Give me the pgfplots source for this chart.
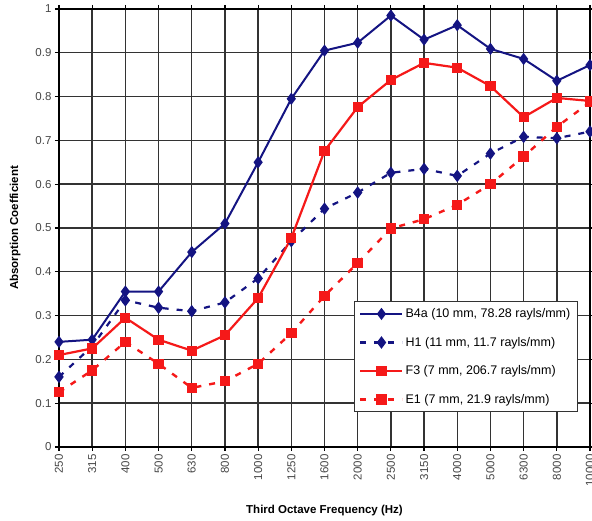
\documentclass[border=0pt]{standalone}
\usepackage{pgfplots}
\pgfplotsset{compat=1.18}
\usepackage{fontspec}
\setmainfont{Liberation Sans}
\definecolor{navyb}{RGB}{20,20,130}
\definecolor{redb}{RGB}{245,25,25}
\definecolor{tickgray}{RGB}{70,70,70}
\begin{document}
\begin{tikzpicture}
\begin{axis}[
  name=ax,
  scale only axis,
  width=531pt, height=438pt,
  xmin=0, xmax=16, ymin=0, ymax=1,
  xtick={0,...,16},
  xticklabels={250,315,400,500,630,800,1000,1250,1600,2000,2500,3150,4000,5000,6300,8000,10000},
  ytick={0,0.1,0.2,0.3,0.4,0.5,0.6,0.7,0.8,0.9,1},
  yticklabels={0,0.1,0.2,0.3,0.4,0.5,0.6,0.7,0.8,0.9,1},
  x tick label style={rotate=90, anchor=east, font=\fontsize{11.5}{13}\selectfont, text=tickgray},
  y tick label style={font=\fontsize{11.5}{13}\selectfont, text=tickgray},
  /pgf/number format/assume math mode=true,
  grid=major,
  major grid style={black!80, line width=1.4pt},
  axis line style={black, line width=1.4pt},
  tick style={black, line width=1.2pt},
  tick align=outside,
  major tick length=4pt,
  xlabel={\textbf{Third Octave Frequency (Hz)}},
  ylabel={\textbf{Absorption Coefficient}},
  label style={font=\fontsize{11.5}{13}\selectfont},
  xlabel style={yshift=-12pt},
  ylabel style={yshift=8pt},
  legend cell align=left,
  legend style={at={(0.977,0.333)}, anchor=north east, draw=black!80, line width=1pt,
    font=\fontsize{12.5}{14}\selectfont, row sep=14pt, inner xsep=5pt, inner ysep=5pt, fill=white},
  legend image code/.code={\draw[mark repeat=2,mark phase=2] plot coordinates {(0pt,0pt)(21pt,0pt)(42pt,0pt)};},
  clip=false,
]
\addplot[navyb, line width=2pt, mark=diamond*, mark size=4.5pt, mark options={solid}] coordinates {
(0,0.24)(1,0.245)(2,0.355)(3,0.355)(4,0.445)(5,0.51)(6,0.65)(7,0.795)(8,0.905)(9,0.923)(10,0.985)(11,0.93)(12,0.963)(13,0.909)(14,0.886)(15,0.836)(16,0.872)};
\addlegendentry{B4a (10 mm, 78.28 rayls/mm)}
\addplot[navyb, line width=2.2pt, dash pattern=on 6pt off 8pt, mark=diamond*, mark size=4.5pt, mark options={solid}] coordinates {
(0,0.16)(1,0.23)(2,0.335)(3,0.318)(4,0.31)(5,0.33)(6,0.385)(7,0.47)(8,0.544)(9,0.581)(10,0.626)(11,0.635)(12,0.619)(13,0.67)(14,0.708)(15,0.705)(16,0.72)};
\addlegendentry{H1 (11 mm, 11.7 rayls/mm)}
\addplot[redb, line width=2.2pt, mark=square*, mark size=4pt, mark options={solid}] coordinates {
(0,0.21)(1,0.225)(2,0.295)(3,0.245)(4,0.22)(5,0.255)(6,0.34)(7,0.477)(8,0.676)(9,0.776)(10,0.838)(11,0.877)(12,0.866)(13,0.824)(14,0.753)(15,0.797)(16,0.79)};
\addlegendentry{F3 (7 mm, 206.7 rayls/mm)}
\addplot[redb, line width=2.4pt, dash pattern=on 6pt off 8pt, mark=square*, mark size=4pt, mark options={solid}] coordinates {
(0,0.125)(1,0.175)(2,0.24)(3,0.19)(4,0.135)(5,0.15)(6,0.19)(7,0.26)(8,0.345)(9,0.42)(10,0.499)(11,0.52)(12,0.553)(13,0.6)(14,0.663)(15,0.731)(16,0.787)};
\addlegendentry{E1 (7 mm, 21.9 rayls/mm)}
\end{axis}
\pgfresetboundingbox
\path[use as bounding box] ([xshift=-59pt,yshift=-74pt]ax.south west) rectangle ([xshift=2pt,yshift=9pt]ax.north east);
\end{tikzpicture}
\end{document}
